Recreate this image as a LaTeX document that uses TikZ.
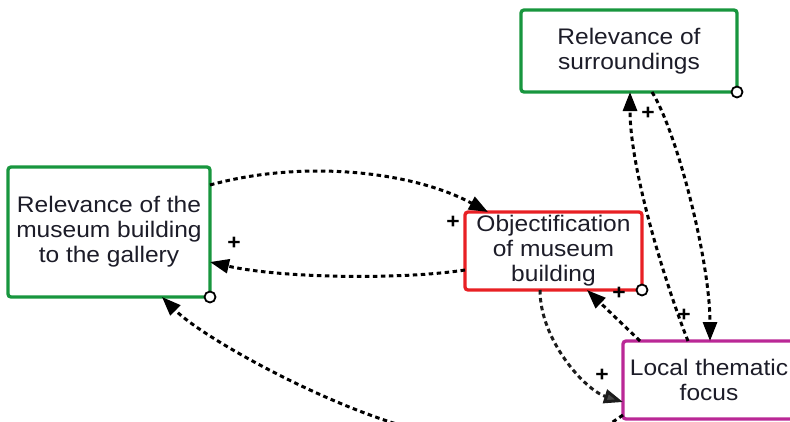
\documentclass[tikz,border=0pt]{standalone}
\usepackage{fontspec}
\setmainfont{Liberation Sans}[FakeStretch=1.09]
\usetikzlibrary{arrows.meta,calc}

\definecolor{grn}{RGB}{24,150,62}
\definecolor{redb}{RGB}{232,32,36}
\definecolor{magb}{RGB}{186,40,150}
\definecolor{txt}{RGB}{28,28,40}
\definecolor{tipgray}{RGB}{70,70,70}

\tikzset{
  concept/.style={draw, line width=3.3pt, rounded corners=3pt, fill=white,
    outer sep=0pt, align=center, text=txt,
    font=\fontsize{22.5}{25}\selectfont},
  link/.style={line width=3pt, dash pattern=on 4.5pt off 3.5pt,
    -{Triangle[length=19pt,width=14pt]}},
  plainlink/.style={line width=3pt, dash pattern=on 4.5pt off 3.5pt},
  sign/.style={font=\bfseries\fontsize{21}{21}\selectfont, inner sep=0pt},
  port/.style={circle, draw, line width=1.8pt, fill=white, minimum size=11pt, inner sep=0pt}
}

\begin{document}
\begin{tikzpicture}[x=1pt,y=-1pt]
\useasboundingbox (0,0) rectangle (790,421);
\clip (0,0) rectangle (790,421);

% concept boxes
\node[concept, draw=grn, minimum width=216pt, minimum height=82pt] (S) at (629,51)
  {Relevance of\\surroundings};
\node[concept, draw=grn, minimum width=202pt, minimum height=130pt] (G) at (109,232)
  {Relevance of the\\museum building\\to the gallery};
\node[concept, draw=redb, minimum width=177pt, minimum height=78pt] (O) at (553.5,251)
  {Objectification\\of museum\\building};
\node[concept, draw=magb, minimum width=172pt, minimum height=78pt] (L) at (709,380)
  {Local thematic\\focus};

% ports on the box corners
\node[port] (Sp) at (S.south east) {};
\node[port] (Gp) at (G.south east) {};
\node[port] (Op) at (O.south east) {};

% free ends of links leaving the frame
\coordinate (inG) at (410,428);
\coordinate (outL) at (598,432);

% links
\draw[link] ([yshift=-18pt]G.north east) .. controls +(90,-25) and +(-78,-42) .. ([xshift=23pt]O.north west);
\draw[link] ([yshift=-58pt]O.north west) .. controls +(-65,10) and +(70,16) .. ([yshift=-95pt]G.north east);
\draw[link] ([xshift=17pt]L.north west) -- ([xshift=122pt]O.south west);
\draw[link, -{Triangle[length=19pt,width=14pt,fill=tipgray]}, tipgray!40!black]
  ([xshift=75pt]O.south west) .. controls +(0,50) and +(-38,-12) .. ([yshift=-61pt]L.north west);
\draw[link] ([xshift=65pt]L.north west) .. controls +(-20,-50) and +(0,80) .. ([xshift=109pt]S.south west);
\draw[link] ([xshift=131pt]S.south west) .. controls +(25,40) and +(0,-80) .. ([xshift=87pt]L.north west);
\draw[link] (inG) .. controls +(-90,-25) and +(40,40) .. ([xshift=154pt]G.south west);
\draw[plainlink] ([yshift=4pt]L.south west) -- (outL);

% polarity signs
\node[sign] (s1) at (453,222) {+};
\node[sign] (s2) at (234,243) {+};
\node[sign] (s3) at (619,293) {+};
\node[sign] (s4) at (602,375) {+};
\node[sign] (s5) at (648,113) {+};
\node[sign] (s6) at (684,315) {+};
\end{tikzpicture}
\end{document}
